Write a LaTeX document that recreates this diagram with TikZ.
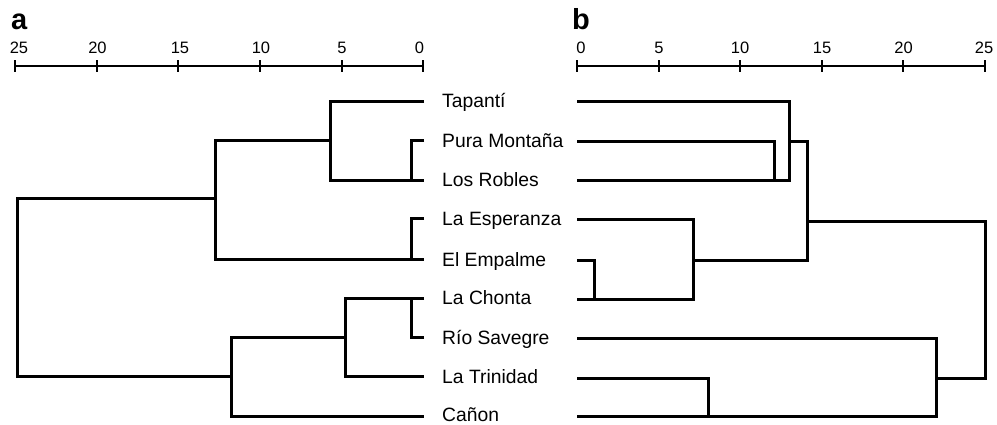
\documentclass[tikz,border=0pt]{standalone}
\usepackage{fontspec}
\setmainfont{Liberation Sans}
\begin{document}
\begin{tikzpicture}[x=1pt,y=-1pt,
  tree/.style={line width=3pt, line join=miter},
  axisline/.style={line width=2pt},
  tickmark/.style={line width=2pt},
  leaf/.style={anchor=base west, inner sep=0pt, font=\fontsize{19.3}{22}\selectfont},
  num/.style={anchor=base, inner sep=0pt, font=\fontsize{16.5}{19}\selectfont},
  panel/.style={anchor=base west, inner sep=0pt, font=\fontsize{29}{32}\selectfont\bfseries}]
\useasboundingbox (0,0) rectangle (997,424);

% panel letters
\node[panel] (pa) at (11,29) {a};
\node[panel] (pb) at (572,29) {b};

% ---------- axis a ----------
\coordinate (axL0) at (14,66);
\coordinate (axL1) at (424,66);
\draw[axisline] (axL0) -- (axL1);
\foreach \x in {15,97,178,260,342,423}
  \draw[tickmark] (\x,60) -- (\x,72);
\node[num] (la25) at (19,53) {25};
\node[num] (la20) at (97.5,53) {20};
\node[num] (la15) at (180,53) {15};
\node[num] (la10) at (261,53) {10};
\node[num] (la5)  at (342,53) {5};
\node[num] (la0)  at (419.5,53) {0};

% ---------- axis b ----------
\coordinate (axR0) at (576,66);
\coordinate (axR1) at (986,66);
\draw[axisline] (axR0) -- (axR1);
\foreach \x in {577,659,740,822,903,985}
  \draw[tickmark] (\x,60) -- (\x,72);
\node[num] (lb0)  at (581,53) {0};
\node[num] (lb5)  at (659,53) {5};
\node[num] (lb10) at (740,53) {10};
\node[num] (lb15) at (822,53) {15};
\node[num] (lb20) at (903.5,53) {20};
\node[num] (lb25) at (984,53) {25};

% ---------- leaf labels ----------
\node[leaf] (t1) at (442,107.8) {Tapantí};
\node[leaf] (t2) at (442,147.0) {Pura Montaña};
\node[leaf] (t3) at (442,186.5) {Los Robles};
\node[leaf] (t4) at (442,225.0) {La Esperanza};
\node[leaf] (t5) at (442,266.0) {El Empalme};
\node[leaf] (t6) at (442,304.8) {La Chonta};
\node[leaf] (t7) at (442,344.0) {Río Savegre};
\node[leaf] (t8) at (442,383.2) {La Trinidad};
\node[leaf] (t9) at (442,421.0) {Cañon};

% ---------- dendrogram a ----------
\draw[tree] (424,101.5) -- (330.5,101.5) -- (330.5,180.5) -- (424,180.5);
\draw[tree] (424,140.5) -- (411.5,140.5) -- (411.5,180.5);
\draw[tree] (330.5,140.5) -- (215.5,140.5) -- (215.5,259.5) -- (424,259.5);
\draw[tree] (424,218.5) -- (411.5,218.5) -- (411.5,259.5);
\draw[tree] (215.5,198.5) -- (17.5,198.5) -- (17.5,376.5) -- (231.5,376.5);
\draw[tree] (424,298.5) -- (345.5,298.5) -- (345.5,376.5) -- (424,376.5);
\draw[tree] (424,337.5) -- (411.5,337.5) -- (411.5,298.5);
\draw[tree] (345.5,337.5) -- (231.5,337.5) -- (231.5,416.5) -- (424,416.5);

% ---------- dendrogram b ----------
\draw[tree] (577,101.5) -- (789.5,101.5) -- (789.5,180.5) -- (577,180.5);
\draw[tree] (577,141.5) -- (774.5,141.5) -- (774.5,180.5);
\draw[tree] (789.5,141.5) -- (807.5,141.5) -- (807.5,260.5) -- (693.5,260.5);
\draw[tree] (577,219.5) -- (693.5,219.5) -- (693.5,299.5) -- (577,299.5);
\draw[tree] (577,260.5) -- (594.5,260.5) -- (594.5,299.5);
\draw[tree] (807.5,221.5) -- (985.5,221.5) -- (985.5,378.5) -- (936.5,378.5);
\draw[tree] (577,338.5) -- (936.5,338.5) -- (936.5,416.5) -- (577,416.5);
\draw[tree] (577,378.5) -- (708.5,378.5) -- (708.5,416.5);
\end{tikzpicture}
\end{document}
